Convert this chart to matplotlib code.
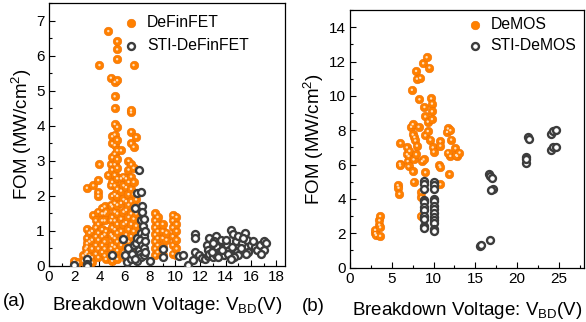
import matplotlib
matplotlib.use("Agg")
import matplotlib.pyplot as plt
from matplotlib.ticker import MultipleLocator

plt.rcParams['font.family'] = ['Liberation Sans', 'DejaVu Sans']
plt.rcParams['mathtext.fontset'] = 'custom'
plt.rcParams['mathtext.rm'] = 'Liberation Sans'
plt.rcParams['mathtext.it'] = 'Liberation Sans'

# ---------------- Panel (a) data ----------------
definfet_vbd = (
    [2.0, 2.0, 2.3, 2.7, 2.7, 2.9, 2.9, 2.9, 2.9]
    + [3.0] * 6 + [3.2] * 4 + [3.4] * 5 + [3.5] * 2 + [3.7] * 5 + [3.9] * 9 + [4.0] * 2
    + [4.2] * 7 + [4.4] * 7 + [4.5] * 3 + [4.7] * 2 + [4.9] * 7 + [5.0] * 13
    + [5.2] * 18 + [5.4] * 19 + [5.7] * 7 + [5.9] * 7 + [6.1] * 8 + [6.3] * 9
    + [6.5] * 12 + [6.7] * 10 + [6.9] * 6 + [7.3] * 3 + [8.4] * 7 + [8.6] * 6
    + [9.0] * 5 + [9.3] * 2 + [9.8] * 6 + [10.1] * 6
)
definfet_fom = (
    [0.15, 0.05, 0.1, 0.3, 0.15, 0.5, 0.35, 0.2, 0.05]
    + [2.23, 1.05, 0.8, 0.65, 0.55, 0.4]
    + [0.95, 0.7, 0.3, 0.15]
    + [1.0, 0.75, 0.5, 0.25, 0.1]
    + [2.3, 1.45]
    + [1.3, 1.1, 0.85, 0.6, 0.35]
    + [2.45, 2.1, 2.0, 1.55, 1.2, 0.95, 0.75, 0.5, 0.25]
    + [2.9, 5.73]
    + [1.65, 1.5, 1.3, 1.05, 0.85, 0.6, 0.4]
    + [1.7, 1.5, 1.3, 0.9, 0.7, 0.5, 0.3]
    + [1.55, 1.0, 0.2]
    + [2.6, 6.7]
    + [2.3, 2.9, 1.75, 1.3, 0.9, 0.5, 5.37]
    + [0.15, 0.35, 0.6, 0.85, 1.1, 1.4, 1.7, 2.0, 2.4, 2.75, 3.1, 3.5, 3.7]
    + [0.3, 0.55, 0.8, 1.05, 1.3, 1.55, 1.8, 2.05, 2.3, 2.6, 2.9, 3.2, 3.45, 3.75, 4.05, 4.5, 4.84, 5.25]
    + [0.2, 0.45, 0.7, 0.95, 1.2, 1.5, 1.75, 2.0, 2.2, 2.5, 2.8, 3.05, 3.3, 3.6, 3.97, 5.3, 5.9, 6.18, 6.41]
    + [0.6, 1.0, 1.35, 1.8, 2.15, 2.5, 3.3]
    + [0.4, 0.8, 1.2, 1.55, 1.9, 2.3, 2.55]
    + [0.2, 0.55, 0.9, 1.25, 1.6, 1.85, 2.25, 2.5]
    + [0.35, 0.7, 1.05, 1.4, 1.75, 2.05, 2.4, 2.75, 3.0]
    + [0.5, 0.85, 1.2, 1.5, 1.85, 2.2, 2.55, 2.9, 3.5, 3.83, 4.38, 4.45]
    + [0.25, 0.6, 1.0, 1.35, 1.7, 2.05, 2.4, 2.8, 3.4, 5.73]
    + [0.4, 0.8, 1.15, 1.5, 1.9, 3.68]
    + [0.3, 0.6, 0.9]
    + [0.3, 0.5, 0.7, 0.9, 1.1, 1.3, 1.5]
    + [0.4, 0.6, 0.8, 1.0, 1.2, 1.4]
    + [0.3, 0.55, 0.8, 1.0, 1.2]
    + [0.75, 0.95]
    + [0.35, 0.6, 0.85, 1.1, 1.3, 1.45]
    + [0.3, 0.5, 0.75, 1.0, 1.2, 1.4]
)

sti_definfet_vbd = [
    2.0, 3.0, 3.0, 3.0, 5.0, 5.9, 6.0, 6.2, 6.3, 6.5, 6.6, 6.7, 6.9, 6.85, 7.0, 7.1,
    7.1, 7.0, 7.3, 7.4, 7.4, 7.3, 7.45, 7.3, 7.5, 7.2, 7.4, 7.5, 7.2, 7.3, 7.0, 6.8,
    7.55, 7.6, 7.6, 7.6, 7.5, 8.0, 9.0, 9.0, 10.3, 10.6, 11.0,
    11.6, 11.6, 11.6, 11.45, 11.9, 12.1, 12.4, 12.6, 12.5, 12.7, 12.9, 12.6, 12.7, 13.0,
    13.2, 13.1, 13.3, 13.5, 13.2, 13.0, 13.6, 13.8, 13.9, 14.1, 14.4, 14.3, 14.6, 14.8,
    15.0, 14.2, 14.5, 14.9, 15.3, 15.5, 15.2, 15.0, 15.7, 16.0, 15.8, 16.3, 16.5, 16.7,
    17.0, 17.2, 17.0, 16.8, 14.0, 14.7, 13.4, 15.6, 16.2, 14.4, 13.7, 12.9, 15.4,
]
sti_definfet_fom = [
    0.02, 0.2, 0.05, 0.0, 0.3, 0.78, 0.3, 0.12, 0.5, 0.2, 0.35, 0.6, 0.65, 1.65, 0.8, 0.45,
    2.75, 2.08, 2.1, 1.7, 1.55, 1.3, 1.15, 0.95, 0.85, 0.75, 0.6, 0.5, 0.35, 0.25, 0.15, 0.2,
    0.3, 0.4, 0.7, 1.0, 1.35, 0.15, 0.25, 0.48, 0.28, 0.3, 0.02,
    0.9, 0.8, 0.41, 0.17, 0.3, 0.22, 0.2, 0.28, 0.6, 0.8, 0.5, 0.45, 0.35, 0.25,
    0.85, 0.7, 0.55, 0.4, 0.3, 0.65, 0.75, 0.5, 0.3, 0.6, 1.03, 0.45, 0.9, 0.7,
    0.85, 0.35, 0.55, 0.4, 0.65, 0.95, 0.5, 0.3, 0.75, 0.6, 0.4, 0.55, 0.45, 0.6,
    0.7, 0.65, 0.45, 0.35, 0.75, 0.25, 0.25, 0.35, 0.7, 0.2, 0.45, 0.4, 0.8,
]

# ---------------- Panel (b) data ----------------
demos_vbd = [
    3.0, 3.0, 3.1, 3.5, 3.5, 3.6, 3.6, 3.6,
    5.7, 5.8, 5.9, 5.95, 6.0, 6.03,
    6.8, 6.8, 6.9, 7.0, 7.0, 7.1, 7.3, 7.4, 7.5, 7.5,
    7.5, 7.6, 7.6, 7.7, 7.8, 7.9, 7.9, 8.0, 8.0, 8.2,
    8.3, 8.4, 8.45, 8.5, 8.5, 8.6,
    8.75, 8.8, 8.9, 9.0, 9.0, 9.0, 9.17, 9.3, 9.3, 9.49,
    9.6, 9.7, 9.8, 9.8, 9.8, 9.9, 10.0, 10.0,
    10.8, 10.8, 10.7, 10.8, 10.8,
    11.6, 11.7, 12.0, 12.1, 12.6, 12.8, 12.0, 11.7, 12.7, 13.1, 11.9,
]
demos_fom = [
    2.0, 2.2, 1.9, 2.5, 2.75, 3.0, 2.35, 1.85,
    4.8, 4.65, 4.3, 6.05, 5.95, 7.25,
    7.0, 6.6, 6.2, 5.9, 6.5, 6.8, 8.2, 10.35, 8.35, 7.75,
    5.6, 5.0, 6.3, 7.6, 7.4, 11.45, 6.6, 11.0, 7.1, 8.2,
    9.8, 11.05, 3.0, 4.1, 4.4, 6.2,
    11.9, 6.3, 9.35, 8.8, 7.7, 5.55, 12.25, 8.5, 7.95, 11.65,
    7.45, 9.85, 9.55, 9.1, 8.65, 7.0, 6.75, 4.85,
    7.35, 7.1, 5.95, 5.85, 4.85,
    7.9, 8.1, 8.0, 7.45, 6.95, 6.5, 6.5, 6.7, 6.55, 6.7, 5.45,
]

sti_demos_vbd = (
    [8.8] * 11 + [10.0] * 13
    + [15.6, 15.7, 16.75, 16.6, 16.8, 17.0, 17.05, 16.9,
       21.0, 21.0, 21.0, 21.3, 21.4, 24.0, 24.3, 24.6, 24.0, 24.3, 24.6]
)
sti_demos_fom = (
    [5.05, 4.85, 4.6, 3.95, 3.8, 3.55, 3.35, 3.0, 2.85, 2.4, 2.3]
    + [5.0, 4.8, 4.6, 4.0, 3.85, 3.6, 3.4, 3.2, 2.95, 2.75, 2.6, 2.25, 2.15]
    + [1.25, 1.3, 1.6, 5.45, 5.35, 5.2, 4.55, 4.5,
       6.45, 6.1, 6.3, 7.6, 7.5, 7.8, 7.95, 8.0, 6.85, 7.0, 7.05]
)

ORANGE = '#ff8000'
DARK = '#3c3c3c'

fig = plt.figure(figsize=(5.86, 3.22), dpi=100)
ax1 = fig.add_axes([0.0836, 0.174, 0.4027, 0.8165])
ax2 = fig.add_axes([0.5973, 0.169, 0.3993, 0.800])


def orange(ax, x, y, label):
    ax.scatter(x, y, s=38, c=ORANGE, edgecolors='#f07000', linewidths=0.4, zorder=3, label=label)
    ax.scatter(x, y, s=3, c='#ffe0c0', edgecolors='none', zorder=3.1)


def dark(ax, x, y, label):
    ax.scatter(x, y, s=25, facecolors='white', edgecolors=DARK, linewidths=1.7, zorder=4, label=label)


orange(ax1, definfet_vbd, definfet_fom, 'DeFinFET')
dark(ax1, sti_definfet_vbd, sti_definfet_fom, 'STI-DeFinFET')
orange(ax2, demos_vbd, demos_fom, 'DeMOS')
dark(ax2, sti_demos_vbd, sti_demos_fom, 'STI-DeMOS')

ax1.set_xlim(0, 18.7)
ax1.set_ylim(0, 7.5)
ax1.xaxis.set_major_locator(MultipleLocator(2))
ax1.xaxis.set_minor_locator(MultipleLocator(1))
ax1.yaxis.set_major_locator(MultipleLocator(1))
ax1.yaxis.set_minor_locator(MultipleLocator(0.5))

ax2.set_xlim(0, 28)
ax2.set_ylim(0, 15)
ax2.xaxis.set_major_locator(MultipleLocator(5))
ax2.xaxis.set_minor_locator(MultipleLocator(2.5))
ax2.yaxis.set_major_locator(MultipleLocator(2))
ax2.yaxis.set_minor_locator(MultipleLocator(1))

for ax in (ax1, ax2):
    for sp in ax.spines.values():
        sp.set_linewidth(0.9)
    ax.tick_params(which='both', direction='in', top=False, right=False, labelsize=11, width=0.8)
    ax.tick_params(which='major', length=4, pad=3)
    ax.tick_params(which='minor', length=2)
    ax.set_ylabel('FOM (MW/cm$^2$)', fontsize=13.5, labelpad=2)
    ax.set_xlabel('Breakdown Voltage: V$_{\\mathrm{BD}}$(V)', fontsize=13.5, labelpad=3)

ax1.legend(loc='upper left', bbox_to_anchor=(0.315, 0.955), frameon=False, fontsize=11.3,
           handletextpad=0.5, borderaxespad=0, borderpad=0, labelspacing=0.5,
           handlelength=1.0)
ax2.legend(loc='upper left', bbox_to_anchor=(0.5, 0.972), frameon=False, fontsize=11.3,
           handletextpad=0.5, borderaxespad=0, borderpad=0, labelspacing=0.35,
           handlelength=1.0)

ax1.xaxis.set_label_coords(0.5, -0.11)
ax2.xaxis.set_label_coords(0.5, -0.125)
fig.text(0.005, 0.065, '(a)', fontsize=13.5, va='center')
fig.text(0.515, 0.047, '(b)', fontsize=13.5, va='center')

fig.savefig('out.png', dpi=100)
